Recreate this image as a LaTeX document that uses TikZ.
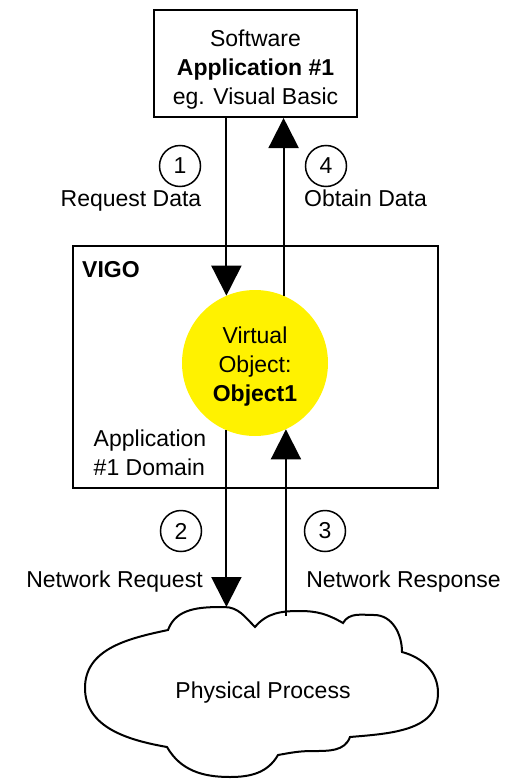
\documentclass[tikz,border=0pt]{standalone}
\usepackage{fontspec}
\setmainfont{Liberation Sans}
\usetikzlibrary{arrows.meta}

\begin{document}
\begin{tikzpicture}[x=1pt, y=1pt,
    every node/.style={font=\fontsize{23}{29}\selectfont, inner sep=0pt},
    frame/.style={draw, line width=2pt},
    flow/.style={line width=2pt, -{Triangle[length=30pt, width=30pt]}},
    stepnum/.style={draw, circle, line width=1.5pt, minimum size=41pt},
    lbl/.style={anchor=base}]
    \useasboundingbox (0,0) rectangle (508,-779);

    % application and VIGO boxes
    \node[frame, minimum width=203pt, minimum height=107pt] (app) at (255.5,-63.5) {};
    \node[align=center] (apptext) at (255.5,-69.5) {Software\\\textbf{Application \#1}\\eg. Visual Basic};
    \node[frame, minimum width=365pt, minimum height=242pt] (vigo) at (255.5,-367) {};
    \node[anchor=base west, font=\fontsize{23}{29}\selectfont\bfseries] (vigolbl) at (82,-277) {VIGO};
    \node[align=left] (domain) at (150,-453) {Application\\\#1 Domain};

    % virtual object
    \node[circle, fill=yellow, minimum size=146pt] (obj) at (255,-363) {};
    \node[align=center] (objtext) at (255,-367) {Virtual\\Object:\\\textbf{Object1}};

    % physical process
    \draw[line width=2pt] (168,-630) to[out=70,in=180] (224,-607) to[out=0,in=135] (255,-627)
        to[out=50,in=180] (300,-611) to[out=0,in=150] (343,-623)
        to[out=60,in=180] (374,-615) to[out=0,in=90] (402,-652)
        to[out=-15,in=90] (438,-693) to[out=-90,in=5] (350,-737)
        to[out=-110,in=0] (313,-751) to[out=180,in=10] (278,-755)
        to[out=-120,in=0] (230,-777) to[out=180,in=-60] (167,-747)
        to[out=170,in=-90] (85,-688) to[out=90,in=192] (168,-630) -- cycle;
    \node[lbl] (proc) at (263,-698) {Physical Process};
    \coordinate (ctop) at (226,-607);
    \coordinate (cin) at (286,-616);

    % flows
    \draw[flow] (app.south -| obj.113) -- (obj.113);
    \draw[flow] (obj.67) -- (obj.67 |- app.south);
    \draw[flow] (obj.247) -- (obj.247 |- ctop);
    \draw[flow] (obj.295 |- cin) -- (obj.295);

    % steps
    \node[stepnum] (s1) at (180,-166) {1};
    \node[stepnum] (s4) at (326,-166) {4};
    \node[stepnum] (s2) at (181,-531) {2};
    \node[stepnum] (s3) at (325,-531) {3};
    \node[lbl] (reqlbl) at (131,-206) {Request Data};
    \node[lbl] (oblbl) at (365.5,-206) {Obtain Data};
    \node[lbl] (netreq) at (114.5,-587) {Network Request};
    \node[lbl] (netresp) at (403.5,-587) {Network Response};
\end{tikzpicture}
\end{document}
